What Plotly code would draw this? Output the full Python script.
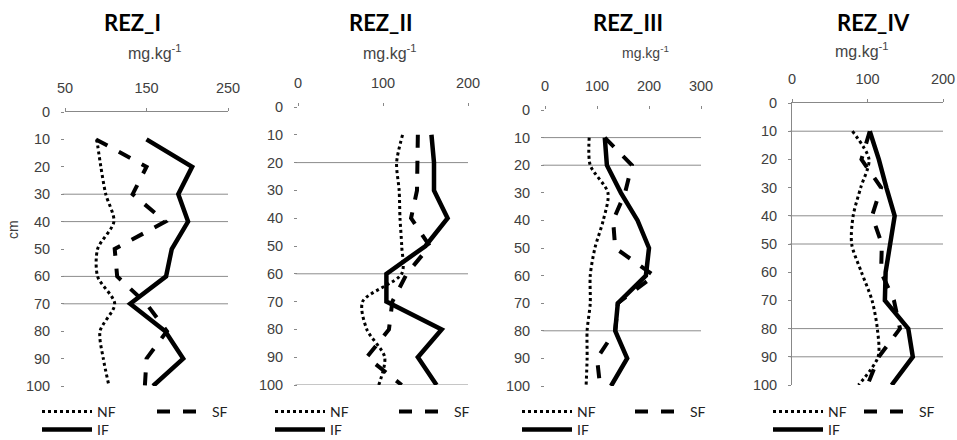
import plotly.graph_objects as go

# Sampling depths (cm) and tick labels of the depth axis
depth = [10, 20, 30, 40, 50, 60, 70, 80, 90, 100]
depth_ticks = [0, 10, 20, 30, 40, 50, 60, 70, 80, 90, 100]

panel_titles = ["REZ_I", "REZ_II", "REZ_III", "REZ_IV"]

# Concentrations (mg.kg-1) per profile
nf_i = [89, 94, 100, 110, 90, 90, 111, 93, 97, 104]
sf_i = [88, 150, 133, 173, 111, 114, 150, 175, 150, 148]
if_i = [150, 206, 189, 201, 181, 174, 130, 173, 195, 158]

nf_ii = [123, 116, 119, 120, 122, 122, 76, 81, 102, 95]
sf_ii = [141, 141, 140, 133, 155, 128, 111, 107, 81, 122]
if_ii = [157, 160, 160, 176, 150, 104, 104, 169, 141, 163]

nf_iii = [85, 87, 121, 112, 96, 87, 87, 81, 81, 79]
sf_iii = [115, 167, 154, 131, 135, 210, 140, 135, 100, 106]
if_iii = [115, 119, 146, 178, 200, 194, 140, 135, 158, 127]

nf_iv = [80, 102, 91, 81, 79, 92, 106, 113, 114, 88]
sf_iv = [103, 92, 118, 106, 119, 118, 135, 143, 115, 100]
if_iv = [103, 115, 125, 136, 130, 124, 123, 154, 160, 132]

series = [
    (nf_i, sf_i, if_i),
    (nf_ii, sf_ii, if_ii),
    (nf_iii, sf_iii, if_iii),
    (nf_iv, sf_iv, if_iv),
]

x_ranges = [[50, 250], [0, 200], [0, 300], [0, 200]]
x_ticks = [[50, 150, 250], [0, 100, 200], [0, 100, 200, 300], [0, 100, 200]]
grid_depths = [[30, 40, 60, 70], [20, 60, 100], [10, 20, 80], [10, 40, 50, 80, 90]]

W, H = 957, 440

# Layout of each small chart, in pixels
x_dom_px = [(65, 228), (298, 468), (545, 701), (792, 943)]
y_dom_px = [(112, 386), (107, 385), (110, 386), (103, 385)]
top_line = [True, False, False, True]
left_line = [False, False, False, True]
title_pos = [(132, 22), (380, 22), (628, 22), (873, 22)]
unit_pos = [(155, 52), (390, 52), (645, 52), (862, 50)]
unit_size = [16, 16, 14, 16]
legend_x = [37, 270, 517, 768]
legend_row1_y = 396
legend_row2_y = 414
entry_w = [50, 59, 48, 26]

tick_font = dict(family="Liberation Sans, Arial, sans-serif", size=14.5, color="#404040")
legend_font = dict(family="Lato, sans-serif", size=14, color="#222222")

fig = go.Figure()
layout = dict(
    width=W, height=H,
    margin=dict(l=0, r=0, t=0, b=0, autoexpand=False),
    paper_bgcolor="white", plot_bgcolor="white",
    annotations=[], shapes=[],
)

for p in range(4):
    sfx = "" if p == 0 else str(p + 1)
    xa, ya = "x" + sfx, "y" + sfx
    leg1 = "legend" if p == 0 else "legend" + str(2 * p + 1)
    leg2 = "legend" + str(2 * p + 2)
    nf, sf, inf = series[p]

    fig.add_trace(go.Scatter(
        x=nf, y=depth, name="NF", mode="lines", xaxis=xa, yaxis=ya, legend=leg1,
        line=dict(color="black", width=3, dash="dot", shape="spline", smoothing=0.8),
    ))
    fig.add_trace(go.Scatter(
        x=sf, y=depth, name="SF", mode="lines", xaxis=xa, yaxis=ya, legend=leg1,
        line=dict(color="black", width=4, dash="13px,13px"),
    ))
    fig.add_trace(go.Scatter(
        x=inf, y=depth, name="IF", mode="lines", xaxis=xa, yaxis=ya, legend=leg2,
        line=dict(color="black", width=4.5),
    ))

    x0, x1 = x_dom_px[p]
    yt, yb = y_dom_px[p]
    layout["xaxis" + sfx] = dict(
        domain=[x0 / W, x1 / W], range=x_ranges[p], side="top", anchor=ya,
        tickvals=x_ticks[p], ticks="outside", ticklen=3, tickcolor="#888888",
        showgrid=False, zeroline=False, showline=top_line[p], linecolor="#888888",
        linewidth=1, tickfont=tick_font, ticklabelstandoff=9, fixedrange=True,
    )
    layout["yaxis" + sfx] = dict(
        domain=[1 - yb / H, 1 - yt / H], range=[100, 0], anchor=xa,
        tickvals=depth_ticks, ticks="outside", ticklen=3, tickcolor="#888888",
        showgrid=False, zeroline=False, showline=left_line[p], linecolor="#888888",
        linewidth=1, tickfont=tick_font, ticklabelstandoff=8, fixedrange=True,
    )

    for g in grid_depths[p]:
        layout["shapes"].append(dict(
            type="line", xref=xa + " domain", yref=ya, x0=-0.015, x1=1, y0=g, y1=g,
            line=dict(color="#8c8c8c", width=1), layer="below",
        ))

    tx, ty = title_pos[p]
    layout["annotations"].append(dict(
        text="<b>" + panel_titles[p] + "</b>", xref="paper", yref="paper",
        x=tx / W, y=1 - ty / H, showarrow=False, xanchor="center", yanchor="middle",
        font=dict(family="Lato, sans-serif", size=22, color="black"),
    ))
    ux, uy = unit_pos[p]
    layout["annotations"].append(dict(
        text="mg.kg<sup>-1</sup>", xref="paper", yref="paper",
        x=ux / W, y=1 - uy / H, showarrow=False, xanchor="center", yanchor="middle",
        font=dict(family="Liberation Sans, Arial, sans-serif", size=unit_size[p], color="#444444"),
    ))

    common = dict(
        orientation="h", xanchor="left", yanchor="top", font=legend_font,
        bgcolor="rgba(0,0,0,0)", borderwidth=0, itemwidth=50,
        entrywidthmode="pixels", itemclick=False, itemdoubleclick=False,
    )
    layout[leg1] = dict(common, x=legend_x[p] / W, y=1 - legend_row1_y / H, entrywidth=entry_w[p])
    layout[leg2] = dict(common, x=legend_x[p] / W, y=1 - legend_row2_y / H, entrywidth=entry_w[p])

layout["annotations"].append(dict(
    text="cm", xref="paper", yref="paper", x=13 / W, y=1 - 230 / H,
    showarrow=False, textangle=-90, xanchor="center", yanchor="middle",
    font=dict(family="Liberation Sans, Arial, sans-serif", size=14, color="#404040"),
))

fig.update_layout(**layout)
fig.write_html("out.html", config=dict(displayModeBar=False))
